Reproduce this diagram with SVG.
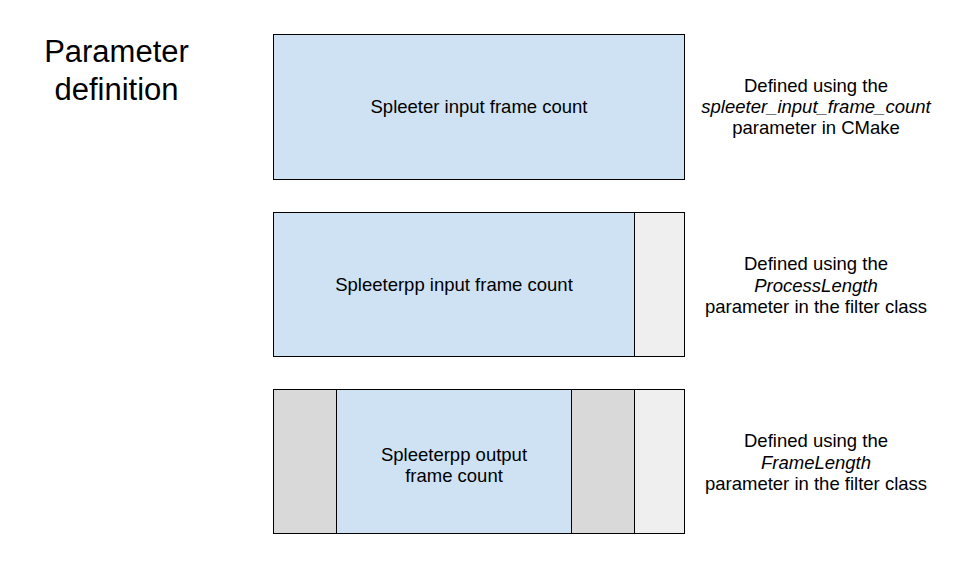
<svg xmlns="http://www.w3.org/2000/svg" width="955" height="575" viewBox="0 0 955 575">
<style>
text{font-family:"Liberation Sans",Arial,sans-serif;fill:#000;text-anchor:middle}
.b{font-size:18.5px}
.t{font-size:31px}
.blue{fill:#cfe2f3}
.dg{fill:#d9d9d9}
.lg{fill:#efefef}
.s{stroke:#000;stroke-width:1}
.dv{stroke:#000;stroke-width:1;fill:none}
</style>
<rect width="955" height="575" fill="#fff"/>
<g id="title">
<text class="t" x="116.5" y="62">Parameter</text>
<text class="t" x="116.5" y="100">definition</text>
</g>
<g id="box1">
<rect class="blue s" x="273.5" y="34.5" width="411" height="145"/>
<text class="b" x="479" y="113">Spleeter input frame count</text>
</g>
<g id="box2">
<rect class="blue" x="273.5" y="212.5" width="361" height="144"/>
<rect class="lg" x="634.5" y="212.5" width="50" height="144"/>
<rect class="dv" x="273.5" y="212.5" width="411" height="144"/>
<line class="dv" x1="634.5" y1="212.5" x2="634.5" y2="356.5"/>
<text class="b" x="454" y="291">Spleeterpp input frame count</text>
</g>
<g id="box3">
<rect class="dg" x="273.5" y="389.5" width="63" height="144"/>
<rect class="blue" x="336.5" y="389.5" width="235" height="144"/>
<rect class="dg" x="571.5" y="389.5" width="63" height="144"/>
<rect class="lg" x="634.5" y="389.5" width="50" height="144"/>
<rect class="dv" x="273.5" y="389.5" width="411" height="144"/>
<line class="dv" x1="336.5" y1="389.5" x2="336.5" y2="533.5"/>
<line class="dv" x1="571.5" y1="389.5" x2="571.5" y2="533.5"/>
<line class="dv" x1="634.5" y1="389.5" x2="634.5" y2="533.5"/>
<text class="b" x="454" y="461">Spleeterpp output</text>
<text class="b" x="454" y="482">frame count</text>
</g>
<g id="note1">
<text class="b" x="816" y="92">Defined using the</text>
<text class="b" x="816" y="113" font-style="italic">spleeter_input_frame_count</text>
<text class="b" x="816" y="134">parameter in CMake</text>
</g>
<g id="note2">
<text class="b" x="816" y="270">Defined using the</text>
<text class="b" x="816" y="292" font-style="italic">ProcessLength</text>
<text class="b" x="816" y="313">parameter in the filter class</text>
</g>
<g id="note3">
<text class="b" x="816" y="447">Defined using the</text>
<text class="b" x="816" y="469" font-style="italic">FrameLength</text>
<text class="b" x="816" y="490">parameter in the filter class</text>
</g>
<g id="connectors"></g>
</svg>
